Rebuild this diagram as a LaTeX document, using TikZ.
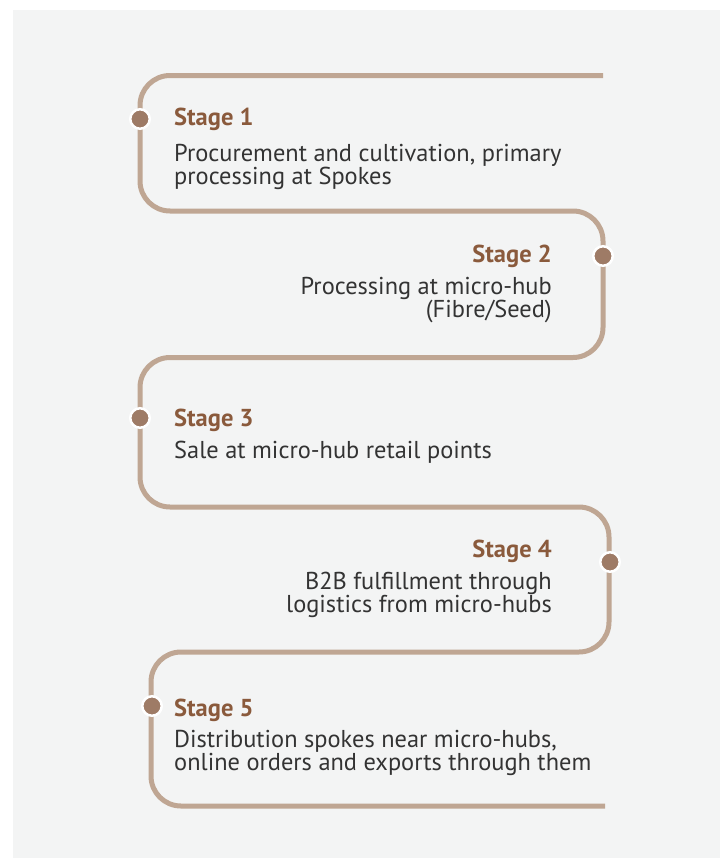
\documentclass[tikz,border=0pt]{standalone}
\usepackage{fontspec}
\setmainfont{PT Sans}
\definecolor{panel}{HTML}{F3F4F4}
\definecolor{track}{HTML}{BFA693}
\definecolor{dotc}{HTML}{9E7B66}
\definecolor{titlec}{HTML}{8A5A3C}
\definecolor{bodyc}{HTML}{333333}
\tikzset{
  trackline/.style={draw=track, line width=5pt, rounded corners=30pt},
  stagedot/.style={circle, fill=dotc, draw=white, line width=2.5pt, minimum size=19.5pt, inner sep=0pt},
  stitle/.style={font=\fontsize{24.5}{25}\selectfont\bfseries, text=titlec, inner sep=0pt},
  sbody/.style={font=\fontsize{24.4}{23}\selectfont, text=bodyc, inner sep=0pt},
}
\begin{document}
\begin{tikzpicture}[x=1pt,y=-1pt]
\useasboundingbox (0,0) rectangle (720,859);
\fill[white] (0,0) rectangle (720,859);
\fill[panel] (13,10) rectangle (720,858);
% track
\coordinate (start) at (603,75.5);
\coordinate (finish) at (605,806);
\draw[trackline] (start) -- (140,75.5) -- (140,211) -- (603,211) -- (603,357.5)
  -- (140,357.5) -- (140,507) -- (609,507) -- (609,652) -- (151,652) -- (151,806) -- (finish);
% dots
\node[stagedot] (d1) at (140,119) {};
\node[stagedot] (d2) at (603,256) {};
\node[stagedot] (d3) at (140,418) {};
\node[stagedot] (d4) at (610,562) {};
\node[stagedot] (d5) at (152,706) {};
% stage 1
\node[stitle, anchor=base west] (t1) at (174,125) {Stage 1};
\node[sbody, anchor=base west] (b1a) at (174,161) {Procurement and cultivation, primary};
\node[sbody, anchor=base west] (b1b) at (174,184.5) {processing at Spokes};
% stage 2
\node[stitle, anchor=base east] (t2) at (552,262) {Stage 2};
\node[sbody, anchor=base east] (b2a) at (552,294) {Processing at micro-hub};
\node[sbody, anchor=base east] (b2b) at (552,317) {(Fibre/Seed)};
% stage 3
\node[stitle, anchor=base west] (t3) at (174,426.5) {Stage 3};
\node[sbody, anchor=base west] (b3a) at (174,458.5) {Sale at micro-hub retail points};
% stage 4
\node[stitle, anchor=base east] (t4) at (552,557.5) {Stage 4};
\node[sbody, anchor=base east] (b4a) at (552,589.5) {B2B fulfillment through};
\node[sbody, anchor=base east] (b4b) at (552,612) {logistics from micro-hubs};
% stage 5
\node[stitle, anchor=base west] (t5) at (174,716.5) {Stage 5};
\node[sbody, anchor=base west] (b5a) at (174,747.5) {Distribution spokes near micro-hubs,};
\node[sbody, anchor=base west] (b5b) at (174,770) {online orders and exports through them};
\end{tikzpicture}
\end{document}
